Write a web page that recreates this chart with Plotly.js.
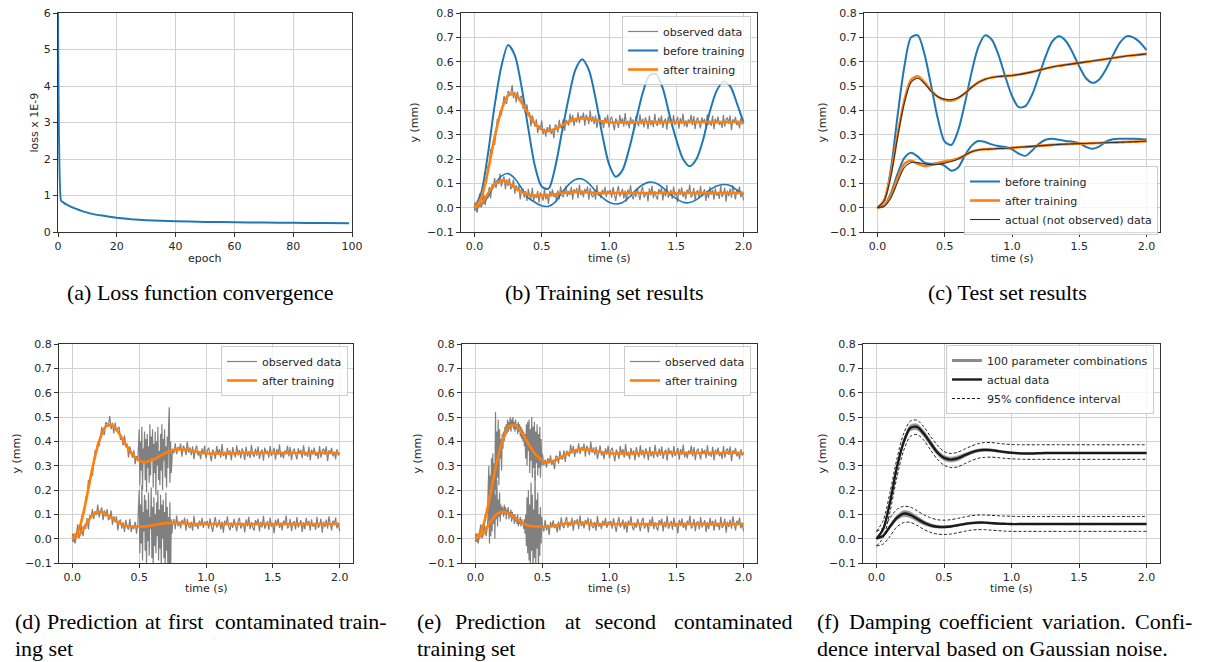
<!DOCTYPE html>
<html><head><meta charset="utf-8">
<script src="https://cdn.plot.ly/plotly-3.0.1.min.js"></script>
<style>html,body{margin:0;padding:0;background:#fff;}#chart{width:1205px;height:662px;}</style>
</head><body><div id="chart"></div>
<script>
// ---------- DATA ----------
// (a) loss
const epochs = [0,1,2,3,4,5,6,8,10,12,15,20,25,30,35,40,50,60,70,80,90,99];
const lossVals = [40,0.86,0.80,0.75,0.71,0.67,0.64,0.58,0.53,0.49,0.45,0.39,0.35,0.325,0.305,0.293,0.277,0.266,0.258,0.251,0.245,0.24];

// time grid for smooth curves (s)
const tSmooth = [0,0.05,0.1,0.15,0.2,0.25,0.3,0.35,0.4,0.45,0.5,0.55,0.6,0.65,0.7,0.75,0.8,0.85,0.9,0.95,1,1.05,1.1,1.15,1.2,1.25,1.3,1.35,1.4,1.45,1.5,1.55,1.6,1.65,1.7,1.75,1.8,1.85,1.9,1.95,2];

// time grid for observed (noisy) data (s)
const tObs = [0,0.01,0.02,0.03,0.04,0.05,0.06,0.07,0.08,0.09,0.1,0.11,0.12,0.13,0.14,0.15,0.16,0.17,0.18,0.19,0.2,0.21,0.22,0.23,0.24,0.25,0.26,0.27,0.28,0.29,0.3,0.31,0.32,0.33,0.34,0.35,0.36,0.37,0.38,0.39,0.4,0.41,0.42,0.43,0.44,0.45,0.46,0.47,0.48,0.49,0.5,0.51,0.52,0.53,0.54,0.55,0.56,0.57,0.58,0.59,0.6,0.61,0.62,0.63,0.64,0.65,0.66,0.67,0.68,0.69,0.7,0.71,0.72,0.73,0.74,0.75,0.76,0.77,0.78,0.79,0.8,0.81,0.82,0.83,0.84,0.85,0.86,0.87,0.88,0.89,0.9,0.91,0.92,0.93,0.94,0.95,0.96,0.97,0.98,0.99,1,1.01,1.02,1.03,1.04,1.05,1.06,1.07,1.08,1.09,1.1,1.11,1.12,1.13,1.14,1.15,1.16,1.17,1.18,1.19,1.2,1.21,1.22,1.23,1.24,1.25,1.26,1.27,1.28,1.29,1.3,1.31,1.32,1.33,1.34,1.35,1.36,1.37,1.38,1.39,1.4,1.41,1.42,1.43,1.44,1.45,1.46,1.47,1.48,1.49,1.5,1.51,1.52,1.53,1.54,1.55,1.56,1.57,1.58,1.59,1.6,1.61,1.62,1.63,1.64,1.65,1.66,1.67,1.68,1.69,1.7,1.71,1.72,1.73,1.74,1.75,1.76,1.77,1.78,1.79,1.8,1.81,1.82,1.83,1.84,1.85,1.86,1.87,1.88,1.89,1.9,1.91,1.92,1.93,1.94,1.95,1.96,1.97,1.98,1.99,2];

// observed training data (mm)
const obsUpper = [-0.013,0.021,-0.016,0.024,0.059,0.035,0.029,0.092,0.103,0.106,
0.172,0.168,0.241,0.221,0.268,0.258,0.326,0.364,0.354,0.397,
0.379,0.418,0.459,0.432,0.427,0.479,0.472,0.466,0.504,0.450,
0.476,0.432,0.477,0.441,0.454,0.459,0.407,0.414,0.383,0.425,
0.376,0.391,0.334,0.379,0.357,0.332,0.363,0.306,0.339,0.322,
0.359,0.301,0.325,0.292,0.331,0.309,0.342,0.303,0.322,0.286,
0.341,0.336,0.308,0.361,0.330,0.327,0.363,0.315,0.361,0.352,
0.337,0.387,0.350,0.381,0.336,0.369,0.351,0.392,0.347,0.377,
0.364,0.391,0.337,0.382,0.371,0.343,0.399,0.353,0.375,0.343,
0.379,0.327,0.366,0.383,0.342,0.355,0.327,0.371,0.346,0.382,
0.330,
0.362,0.374,0.341,0.318,0.366,0.355,0.328,0.381,0.347,0.368,
0.333,0.389,0.339,0.358,0.326,0.373,0.344,0.363,0.322,0.376,
0.350,0.334,0.384,0.342,0.365,0.330,0.371,0.357,0.323,0.378,
0.338,0.360,0.331,0.386,0.346,0.336,0.370,0.341,0.379,0.328,
0.355,0.366,0.320,0.374,0.349,0.362,0.333,0.381,0.339,0.354,
0.373,0.325,0.368,0.344,0.387,0.334,0.358,0.330,0.363,0.347,
0.382,0.338,0.376,0.323,0.360,0.370,0.342,0.326,0.371,0.350,
0.365,0.331,0.384,0.341,0.357,0.336,0.378,0.322,0.366,0.346,
0.374,0.339,0.355,0.328,0.381,0.333,0.362,0.370,0.344,0.379,
0.318,0.363,0.349,0.373,0.338,0.358,0.326,0.368,0.342,0.352];
const obsLower = [0.021,-0.009,-0.019,0.017,0.044,0.001,0.019,0.054,0.010,0.053,
0.041,0.085,0.038,0.096,0.084,0.122,0.080,0.113,0.097,0.140,
0.087,0.113,0.128,0.076,0.116,0.090,0.121,0.076,0.086,0.116,
0.057,0.093,0.067,0.092,0.034,0.071,0.078,0.041,0.068,0.028,
0.077,0.049,0.037,0.082,0.028,0.053,0.040,0.069,0.021,0.063,
0.048,0.029,0.077,0.034,0.058,0.015,0.069,0.046,0.075,0.043,
0.060,0.026,0.071,0.034,0.088,0.052,0.043,0.072,0.089,0.045,
0.066,0.052,0.086,0.033,0.076,0.060,0.081,0.039,0.095,0.051,
0.071,0.042,0.077,0.060,0.087,0.033,0.081,0.051,0.043,0.069,
0.033,0.094,0.049,0.063,0.039,0.074,0.054,0.086,0.044,0.070,
0.060,
0.073,0.041,0.084,0.052,0.028,0.065,0.089,0.046,0.057,0.078,
0.038,0.070,0.025,0.074,0.055,0.092,0.049,0.034,0.066,0.044,
0.081,0.058,0.031,0.071,0.086,0.042,0.054,0.063,0.026,0.079,
0.050,0.090,0.039,0.068,0.047,0.033,0.076,0.060,0.082,0.030,
0.070,0.046,0.094,0.041,0.055,0.073,0.036,0.087,0.049,0.062,
0.022,0.078,0.052,0.084,0.044,0.066,0.034,0.074,0.057,0.095,
0.042,0.050,0.081,0.031,0.065,0.071,0.038,0.089,0.046,0.058,
0.076,0.028,0.068,0.039,0.086,0.054,0.073,0.033,0.079,0.049,
0.063,0.036,0.090,0.044,0.055,0.082,0.025,0.070,0.047,0.078,
0.041,0.092,0.052,0.034,0.074,0.060,0.087,0.042,0.066,0.030];

// first contaminated set: dense segment t = 0.50..0.75
const tContam1 = [0.5,0.505,0.51,0.515,0.52,0.525,0.53,0.535,0.54,0.545,0.55,0.555,0.56,0.565,0.57,0.575,0.58,0.585,0.59,0.595,0.6,0.605,0.61,0.615,0.62,0.625,0.63,0.635,0.64,0.645,0.65,0.655,0.66,0.665,0.67,0.675,0.68,0.685,0.69,0.695,0.7,0.705,0.71,0.715,0.72,0.725,0.73,0.735,0.74,0.745,0.75];
const contam1Upper = [0.45,0.22,0.40,0.28,0.46,0.20,0.37,0.31,0.44,0.24,
0.41,0.19,0.43,0.29,0.38,0.23,0.47,0.26,0.42,0.33,
0.45,0.21,0.39,0.27,0.44,0.18,0.40,0.30,0.46,0.24,
0.36,0.22,0.43,0.28,0.47,0.20,0.41,0.32,0.45,0.25,
0.38,0.21,0.42,0.29,0.46,0.54,0.23,0.40,0.27,0.35,0.37];
const contam1Lower = [0.20,-0.06,0.14,-0.02,0.22,-0.09,0.11,0.03,0.18,-0.05,
0.16,-0.10,0.12,-0.01,0.19,-0.07,0.09,0.04,0.21,-0.08,
0.13,-0.12,0.17,-0.03,0.10,-0.06,0.15,0.01,0.20,-0.09,
0.12,-0.04,0.18,-0.11,0.14,0.00,0.16,-0.08,0.11,-0.13,
0.19,-0.05,0.13,-0.16,0.09,-0.12,0.15,-0.18,0.08,0.02,0.06];

// second contaminated set: dense segment t = 0.10..0.50
const tContam2 = [0.1,0.105,0.11,0.115,0.12,0.125,0.13,0.135,0.14,0.145,0.15,0.155,0.16,0.165,0.17,0.175,0.18,0.185,0.19,0.195,0.2,0.205,0.21,0.215,0.22,0.225,0.23,0.235,0.24,0.245,0.25,0.255,0.26,0.265,0.27,0.275,0.28,0.285,0.29,0.295,0.3,0.305,0.31,0.315,0.32,0.325,0.33,0.335,0.34,0.345,0.35,0.355,0.36,0.365,0.37,0.375,0.38,0.385,0.39,0.395,0.4,0.405,0.41,0.415,0.42,0.425,0.43,0.435,0.44,0.445,0.45,0.455,0.46,0.465,0.47,0.475,0.48,0.485,0.49,0.495,0.5];
const contam2Upper = [0.30,0.10,0.26,0.06,0.33,0.14,0.35,0.09,0.31,0.20,
0.52,0.16,0.44,0.25,0.49,0.22,0.45,0.33,0.41,0.28,0.43,
0.37,0.44,0.40,0.46,0.42,0.47,0.43,0.49,0.44,0.48,
0.45,0.50,0.44,0.49,0.46,0.50,0.45,0.48,0.44,0.49,
0.45,0.47,0.43,0.48,0.44,0.47,0.42,0.46,0.41,0.45,
0.40,0.44,0.38,0.43,0.33,0.47,0.30,0.48,0.36,0.49,
0.27,0.45,0.32,0.50,0.25,0.46,0.29,0.48,0.24,0.44,
0.31,0.47,0.26,0.43,0.29,0.46,0.25,0.41,0.30,0.35];
const contam2Lower = [0.15,-0.02,0.20,0.01,0.27,0.03,0.31,0.06,0.22,0.00,
0.18,0.08,0.24,0.05,0.16,0.09,0.19,0.07,0.14,0.10,0.13,
0.12,0.09,0.14,0.10,0.13,0.08,0.12,0.10,0.13,0.08,
0.11,0.09,0.12,0.07,0.11,0.08,0.10,0.06,0.10,0.07,
0.09,0.06,0.10,0.05,0.08,0.06,0.09,0.05,0.08,0.06,
0.07,0.04,0.08,0.02,0.10,-0.03,0.17,-0.06,0.20,-0.09,
0.14,-0.12,0.23,-0.05,0.18,-0.14,0.12,-0.08,0.28,-0.11,
0.16,-0.04,0.19,-0.15,0.10,-0.07,0.13,-0.02,0.09,0.05];

// (b) model outputs on training set
const beforeTrainUpper = [0,0.06,0.22,0.42,0.58,0.668,0.626,0.497,0.326,0.17,0.087,0.078,0.166,0.31,0.45,0.566,0.61,0.566,0.45,0.30,0.179,0.127,0.154,0.242,0.357,0.47,0.543,0.549,0.49,0.38,0.28,0.20,0.17,0.20,0.28,0.396,0.48,0.518,0.50,0.43,0.35];
const beforeTrainLower = [0,0.01,0.045,0.095,0.13,0.14,0.12,0.08,0.04,0.022,0.008,0.006,0.023,0.062,0.095,0.116,0.118,0.10,0.069,0.042,0.022,0.015,0.021,0.043,0.072,0.094,0.105,0.10,0.082,0.057,0.037,0.022,0.021,0.033,0.054,0.073,0.089,0.095,0.091,0.073,0.056];
const afterTrainUpper = [0,0.040,0.150,0.290,0.400,0.461,0.466,0.432,0.386,0.345,0.321,0.315,0.323,0.338,0.353,0.363,0.367,0.365,0.360,0.355,0.351,0.350,0.350,0.350,0.351,0.352,0.352,0.352,0.352,0.352,0.352,0.352,0.352,0.352,0.352,0.352,0.352,0.352,0.352,0.352,0.352];
const afterTrainLower = [0,0.015,0.057,0.096,0.111,0.103,0.083,0.065,0.053,0.050,0.050,0.050,0.055,0.060,0.064,0.065,0.065,0.062,0.060,0.060,0.060,0.060,0.060,0.060,0.060,0.060,0.060,0.060,0.060,0.060,0.060,0.060,0.060,0.060,0.060,0.060,0.060,0.060,0.060,0.060,0.060];

// (c) test set
const beforeTestUpper = [0,0.03,0.16,0.38,0.58,0.70,0.708,0.630,0.499,0.363,0.271,0.258,0.318,0.429,0.557,0.661,0.708,0.690,0.627,0.539,0.459,0.413,0.417,0.465,0.542,0.622,0.683,0.704,0.685,0.638,0.580,0.532,0.513,0.528,0.570,0.626,0.676,0.704,0.700,0.680,0.647];
const beforeTestLower = [0,0.01,0.06,0.14,0.205,0.226,0.21,0.185,0.18,0.183,0.172,0.152,0.165,0.215,0.255,0.274,0.27,0.26,0.253,0.249,0.24,0.222,0.213,0.235,0.262,0.279,0.283,0.279,0.274,0.271,0.265,0.25,0.242,0.252,0.272,0.281,0.283,0.283,0.283,0.282,0.280];
const afterTestUpper = [0,0.03,0.14,0.30,0.44,0.525,0.54,0.515,0.48,0.455,0.442,0.44,0.45,0.47,0.495,0.515,0.528,0.535,0.539,0.541,0.543,0.547,0.552,0.558,0.565,0.572,0.578,0.583,0.587,0.591,0.595,0.599,0.603,0.607,0.611,0.615,0.619,0.623,0.626,0.629,0.632];
const afterTestLower = [0,0.008,0.05,0.12,0.18,0.193,0.18,0.171,0.175,0.184,0.19,0.195,0.202,0.215,0.23,0.237,0.24,0.241,0.243,0.244,0.246,0.248,0.25,0.252,0.254,0.256,0.258,0.26,0.261,0.262,0.263,0.264,0.265,0.266,0.267,0.268,0.269,0.27,0.271,0.272,0.273];
const actualTestUpper = [0,0.028,0.13,0.29,0.43,0.515,0.532,0.51,0.478,0.456,0.446,0.444,0.452,0.47,0.495,0.515,0.528,0.535,0.539,0.541,0.543,0.547,0.552,0.558,0.565,0.572,0.578,0.583,0.587,0.591,0.595,0.599,0.603,0.607,0.611,0.615,0.619,0.623,0.626,0.629,0.632];
const actualTestLower = [0,0.006,0.04,0.105,0.165,0.186,0.185,0.18,0.177,0.178,0.183,0.19,0.20,0.216,0.23,0.237,0.24,0.241,0.243,0.244,0.246,0.248,0.25,0.252,0.254,0.256,0.258,0.26,0.261,0.262,0.263,0.264,0.265,0.266,0.267,0.268,0.269,0.27,0.271,0.272,0.273];

// (f) damping variation
const actualUpper = [0,0.04,0.15,0.29,0.395,0.455,0.459,0.432,0.393,0.355,0.332,0.325,0.33,0.342,0.354,0.362,0.365,0.364,0.36,0.356,0.353,0.351,0.35,0.35,0.351,0.352,0.352,0.352,0.352,0.352,0.352,0.352,0.352,0.352,0.352,0.352,0.352,0.352,0.352,0.352,0.352];
const combosUpperMax = [0,0.043,0.156,0.298,0.405,0.467,0.471,0.444,0.405,0.365,0.342,0.335,0.340,0.350,0.360,0.368,0.371,0.369,0.364,0.359,0.355,0.352,0.351,0.351,0.352,0.353,0.353,0.353,0.353,0.353,0.353,0.353,0.353,0.353,0.353,0.353,0.353,0.353,0.353,0.353,0.353];
const combosUpperMin = [0,0.037,0.144,0.282,0.385,0.443,0.447,0.420,0.381,0.345,0.322,0.315,0.320,0.334,0.348,0.356,0.359,0.359,0.356,0.353,0.351,0.350,0.349,0.349,0.350,0.351,0.351,0.351,0.351,0.351,0.351,0.351,0.351,0.351,0.351,0.351,0.351,0.351,0.351,0.351,0.351];
const ciUpperHigh = [0.03,0.075,0.19,0.325,0.43,0.483,0.487,0.46,0.42,0.385,0.358,0.35,0.355,0.367,0.38,0.39,0.395,0.395,0.392,0.389,0.387,0.386,0.386,0.386,0.386,0.386,0.386,0.386,0.386,0.386,0.386,0.386,0.386,0.386,0.386,0.386,0.386,0.386,0.386,0.386,0.386];
const ciUpperLow = [-0.03,0.005,0.11,0.25,0.36,0.42,0.428,0.405,0.365,0.327,0.302,0.292,0.295,0.307,0.32,0.33,0.334,0.335,0.333,0.33,0.328,0.327,0.326,0.326,0.326,0.326,0.326,0.326,0.326,0.326,0.326,0.326,0.326,0.326,0.326,0.326,0.326,0.326,0.326,0.326,0.326];
const actualLower = [0,0.012,0.05,0.085,0.103,0.098,0.082,0.066,0.055,0.049,0.048,0.05,0.055,0.06,0.064,0.066,0.066,0.064,0.062,0.061,0.06,0.06,0.06,0.06,0.06,0.06,0.06,0.06,0.06,0.06,0.06,0.06,0.06,0.06,0.06,0.06,0.06,0.06,0.06,0.06,0.06];
const combosLowerMax = [0,0.015,0.057,0.095,0.115,0.110,0.093,0.075,0.062,0.054,0.052,0.054,0.059,0.064,0.068,0.070,0.069,0.067,0.065,0.063,0.062,0.062,0.062,0.062,0.062,0.062,0.062,0.062,0.062,0.062,0.062,0.062,0.062,0.062,0.062,0.062,0.062,0.062,0.062,0.062,0.062];
const combosLowerMin = [0,0.009,0.043,0.075,0.091,0.086,0.071,0.057,0.048,0.044,0.044,0.046,0.051,0.056,0.060,0.062,0.063,0.061,0.059,0.059,0.058,0.058,0.058,0.058,0.058,0.058,0.058,0.058,0.058,0.058,0.058,0.058,0.058,0.058,0.058,0.058,0.058,0.058,0.058,0.058,0.058];
const ciLowerHigh = [0.03,0.045,0.085,0.12,0.133,0.13,0.115,0.098,0.086,0.078,0.076,0.078,0.083,0.089,0.094,0.097,0.097,0.096,0.094,0.093,0.092,0.091,0.091,0.091,0.091,0.091,0.091,0.091,0.091,0.091,0.091,0.091,0.091,0.091,0.091,0.091,0.091,0.091,0.091,0.091,0.091];
const ciLowerLow = [-0.03,-0.022,0.01,0.048,0.066,0.067,0.055,0.038,0.026,0.019,0.017,0.019,0.024,0.03,0.035,0.037,0.037,0.035,0.033,0.031,0.03,0.03,0.03,0.03,0.03,0.03,0.03,0.03,0.03,0.03,0.03,0.03,0.03,0.03,0.03,0.03,0.03,0.03,0.03,0.03,0.03];

// captions
const captionsTop = ["(a) Loss function convergence","(b) Training set results","(c) Test set results"];
const captionD = [["(d)","Prediction","at","first","contaminated","train-"],"ing set"];
const captionE = [["(e)","Prediction","at","second","contaminated"],"training set"];
const captionF = [["(f)","Damping","coefficient","variation.","Confi-"],"dence interval based on Gaussian noise."];

// ---------- BUILD ----------
const W = 1205, H = 662;
const px = x => x / W, py = y => 1 - y / H;

// contaminated observed series: observed arrays with the contaminated segments spliced in
const x1 = tObs.slice(0,50).concat(tContam1, tObs.slice(76));
const obs1U = obsUpper.slice(0,50).concat(contam1Upper, obsUpper.slice(76));
const obs1L = obsLower.slice(0,50).concat(contam1Lower, obsLower.slice(76));
const x2 = tObs.slice(0,10).concat(tContam2, tObs.slice(51));
const obs2U = obsUpper.slice(0,10).concat(contam2Upper, obsUpper.slice(51));
const obs2L = obsLower.slice(0,10).concat(contam2Lower, obsLower.slice(51));

const BLUE = '#1f77b4', ORANGE = '#ff7f0e', GRAY = '#808080';
const TF = {family:'DejaVu Sans', size:11, color:'#262626'};

function line(x, y, ax, color, width, extra) {
  return Object.assign({type:'scatter', mode:'lines', x:x, y:y, xaxis:'x'+ax, yaxis:'y'+ax,
    line:{color:color, width:width, shape:'spline', smoothing:0.8}, showlegend:false, hoverinfo:'skip'}, extra||{});
}
function noisy(x, y, ax, extra) {
  return Object.assign({type:'scatter', mode:'lines', x:x, y:y, xaxis:'x'+ax, yaxis:'y'+ax,
    line:{color:GRAY, width:1.2}, showlegend:false, hoverinfo:'skip'}, extra||{});
}
const DASH = {color:'#222222', width:1, dash:'3px,2px', shape:'spline', smoothing:0.8};

const traces = [];
// (a)
traces.push({type:'scatter', mode:'lines', x:epochs, y:lossVals, xaxis:'x', yaxis:'y',
  line:{color:BLUE, width:2, shape:'spline', smoothing:0.3}, showlegend:false});

// (b)
traces.push(noisy(tObs, obsUpper, 2, {name:'observed data', showlegend:true, legend:'legend'}));
traces.push(noisy(tObs, obsLower, 2));
traces.push(line(tSmooth, beforeTrainUpper, 2, BLUE, 2, {name:'before training', showlegend:true, legend:'legend'}));
traces.push(line(tSmooth, beforeTrainLower, 2, BLUE, 1.6));
traces.push(line(tSmooth, afterTrainUpper, 2, ORANGE, 2.6, {name:'after training', showlegend:true, legend:'legend'}));
traces.push(line(tSmooth, afterTrainLower, 2, ORANGE, 2.6));

// (c)
traces.push(line(tSmooth, beforeTestUpper, 3, BLUE, 2, {name:'before training', showlegend:true, legend:'legend2'}));
traces.push(line(tSmooth, beforeTestLower, 3, BLUE, 2));
traces.push(line(tSmooth, afterTestUpper, 3, ORANGE, 2.6, {name:'after training', showlegend:true, legend:'legend2'}));
traces.push(line(tSmooth, afterTestLower, 3, ORANGE, 2.6));
traces.push(line(tSmooth, actualTestUpper, 3, '#333333', 1.1, {name:'actual (not observed) data', showlegend:true, legend:'legend2'}));
traces.push(line(tSmooth, actualTestLower, 3, '#333333', 1.1));

// (d)
traces.push(noisy(x1, obs1U, 4, {name:'observed data', showlegend:true, legend:'legend3'}));
traces.push(noisy(x1, obs1L, 4));
traces.push(line(tSmooth, afterTrainUpper, 4, ORANGE, 2.6, {name:'after training', showlegend:true, legend:'legend3'}));
traces.push(line(tSmooth, afterTrainLower, 4, ORANGE, 2.6));

// (e)
traces.push(noisy(x2, obs2U, 5, {name:'observed data', showlegend:true, legend:'legend4'}));
traces.push(noisy(x2, obs2L, 5));
traces.push(line(tSmooth, afterTrainUpper, 5, ORANGE, 2.6, {name:'after training', showlegend:true, legend:'legend4'}));
traces.push(line(tSmooth, afterTrainLower, 5, ORANGE, 2.6));

// (f)
const BAND = 'rgba(135,135,135,0.85)';
traces.push(line(tSmooth, combosUpperMin, 6, '#8a8a8a', 0.6));
traces.push(line(tSmooth, combosUpperMax, 6, '#8a8a8a', 0.6, {fill:'tonexty', fillcolor:BAND}));
traces.push(line(tSmooth, combosLowerMin, 6, '#8a8a8a', 0.6));
traces.push(line(tSmooth, combosLowerMax, 6, '#8a8a8a', 0.6, {fill:'tonexty', fillcolor:BAND}));
traces.push({type:'scatter', mode:'lines', x:[null], y:[null], xaxis:'x6', yaxis:'y6',
  line:{color:'#8a8a8a', width:3}, name:'100 parameter combinations', showlegend:true, legend:'legend5'});
traces.push(line(tSmooth, actualUpper, 6, '#1a1a1a', 2.4, {name:'actual data', showlegend:true, legend:'legend5'}));
traces.push(line(tSmooth, actualLower, 6, '#1a1a1a', 2.4));
traces.push(line(tSmooth, ciUpperHigh, 6, '#222', 1, {line:DASH, name:'95% confidence interval', showlegend:true, legend:'legend5'}));
traces.push(line(tSmooth, ciUpperLow, 6, '#222', 1, {line:DASH}));
traces.push(line(tSmooth, ciLowerHigh, 6, '#222', 1, {line:DASH}));
traces.push(line(tSmooth, ciLowerLow, 6, '#222', 1, {line:DASH}));

// ---------- LAYOUT ----------
const doms = [
  {x:[58,352], y:[13,232]}, {x:[461,757], y:[13,232]}, {x:[864,1160], y:[13,232]},
  {x:[59,353], y:[344,563]}, {x:[462,757], y:[344,563]}, {x:[863,1160], y:[344,563]}
];
function axBase() {
  return {showline:true, mirror:true, linecolor:'#333333', linewidth:1, ticks:'outside', ticklen:4,
    tickcolor:'#333333', tickwidth:1, showgrid:true, gridcolor:'#d2d2d2', gridwidth:1, zeroline:false,
    tickfont:TF, fixedrange:true};
}
const layout = {width:W, height:H, margin:{l:0,r:0,t:0,b:0}, paper_bgcolor:'#fff', plot_bgcolor:'#fff',
  showlegend:true, annotations:[]};
doms.forEach((d, i) => {
  const n = i === 0 ? '' : String(i+1);
  const xa = axBase(), ya = axBase();
  xa.domain = [px(d.x[0]), px(d.x[1])];
  ya.domain = [py(d.y[1]), py(d.y[0])];
  xa.anchor = 'y'+n; ya.anchor = 'x'+n;
  if (i === 0) {
    xa.range = [0,100]; xa.dtick = 20; xa.tick0 = 0;
    ya.range = [0,6]; ya.dtick = 1; ya.tick0 = 0;
  } else {
    xa.range = [-0.1,2.1]; xa.dtick = 0.5; xa.tick0 = 0; xa.tickformat = '.1f';
    ya.range = [-0.1,0.8]; ya.dtick = 0.1; ya.tick0 = 0; ya.tickformat = '.1f';
  }
  layout['xaxis'+n] = xa; layout['yaxis'+n] = ya;
});

function legendAt(xr, yt) {
  return {x:px(xr), y:py(yt), xanchor:'right', yanchor:'top', bgcolor:'rgba(255,255,255,0.8)',
    bordercolor:'#cccccc', borderwidth:1, font:{family:'DejaVu Sans', size:11, color:'#262626'},
    itemwidth:30, tracegroupgap:0, traceorder:'normal'};
}
layout.legend = legendAt(751, 16);
layout.legend2 = legendAt(1158, 166);
layout.legend3 = legendAt(348, 346);
layout.legend4 = legendAt(751, 346);
layout.legend5 = legendAt(1154, 345);

function ann(text, x, y, opts) {
  layout.annotations.push(Object.assign({text:text, x:px(x), y:py(y), xref:'paper', yref:'paper',
    showarrow:false, font:TF, xanchor:'center', yanchor:'middle'}, opts||{}));
}
// axis titles
ann('epoch', 205, 258);
ann('time (s)', 609, 258); ann('time (s)', 1012, 258);
ann('time (s)', 206, 588); ann('time (s)', 609, 588); ann('time (s)', 1011, 588);
ann('loss x 1E-9', 34, 122.5, {textangle:-90});
ann('y (mm)', 414, 122.5, {textangle:-90}); ann('y (mm)', 822, 122.5, {textangle:-90});
ann('y (mm)', 16, 453.5, {textangle:-90}); ann('y (mm)', 417, 453.5, {textangle:-90});
ann('y (mm)', 822, 453.5, {textangle:-90});

// captions
const CF = {family:'Liberation Serif', size:22, color:'#000'};
ann(captionsTop[0], 200, 292, {font:CF});
ann(captionsTop[1], 604, 292, {font:CF});
ann(captionsTop[2], 1007, 292, {font:CF});
const wordX = {d:[13,45,143,166,213,337], e:[415,453,563,593,672], f:[815,847,937,1040,1133]};
[[captionD,'d',13],[captionE,'e',415],[captionF,'f',815]].forEach(([cap, k, x0]) => {
  cap[0].forEach((w, i) => ann(w, wordX[k][i], 621, {font:CF, xanchor:'left'}));
  ann(cap[1], x0, 648, {font:CF, xanchor:'left'});
});

Plotly.newPlot('chart', traces, layout, {staticPlot:true, displayModeBar:false});
</script>
</body></html>
